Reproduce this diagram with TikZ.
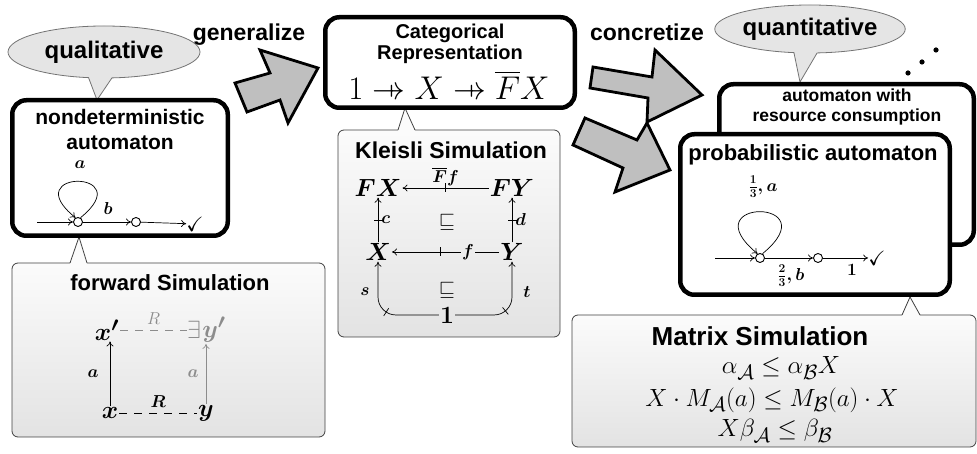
\documentclass[tikz,border=0pt]{standalone}
\usepackage{fontspec}
\usepackage{amssymb}
\newfontfamily\hv{Liberation Sans}
\usetikzlibrary{shapes.callouts,arrows.meta,decorations.markings}
\newcommand{\kto}{\mathrel{\mkern9mu\mapstochar\mkern-9mu\rightarrow}}
\begin{document}
\begin{tikzpicture}[x=1pt,y=1pt,
  bigbox/.style={draw=black, line width=4.5pt, rounded corners=14pt, fill=white, inner sep=0pt},
  simbox/.style={draw=black!75, line width=0.8pt, rounded corners=6pt, top color=gray!3, bottom color=gray!22, inner sep=0pt},
  simline/.style={draw=black!75, line width=0.8pt},
  bubble/.style={ellipse callout, draw=black!55, fill=gray!20, line width=0.8pt, inner sep=0pt, callout pointer arc=14},
  blockarrow/.style={draw=black, line width=2.8pt, fill=gray!50, line join=miter},
  sf/.style={inner sep=0pt, align=center, font=\hv\bfseries\fontsize{#1}{#1}\selectfont},
  mth/.style={inner sep=1pt, font=\fontsize{#1}{#1}\selectfont},
  bmth/.style={inner sep=1pt, font=\fontsize{#1}{#1}\selectfont\boldmath},
  st/.style={circle, draw, line width=0.9pt, minimum size=9pt, inner sep=0pt, fill=white},
  ar/.style={-{To[length=5pt,width=7pt]}, line width=0.7pt},
  kl/.style={ar, postaction={decorate}, decoration={markings, mark=at position #1 with {\draw[line width=0.7pt,-] (0,-4.5pt) -- (0,4.5pt);}}},
  kl/.default=0.5,
  fade/.style={black!45},
  dsh/.style={line width=0.7pt, dash pattern=on 8pt off 7pt}
]
\useasboundingbox (0,0) rectangle (977,454);

% speech bubbles
\node[bubble, minimum width=192pt, minimum height=52pt, callout absolute pointer={(97,354)}] (qual) at (104,402) {\hv\bfseries\fontsize{24}{26}\selectfont qualitative};
\node[bubble, minimum width=184pt, minimum height=48pt, callout absolute pointer={(800,372)}] (quant) at (810,425) {\hv\bfseries\fontsize{24}{26}\selectfont quantitative};

% simulation boxes
\node[simbox, minimum width=313pt, minimum height=174pt] (fwdbox) at (168.5,104) {};
\fill[gray!3] (70,190.2) -- (79,217) -- (87,190.2) -- cycle;
\draw[simline] (70,191) -- (79,217) -- (87,191);

\node[simbox, minimum width=222pt, minimum height=207pt] (klbox) at (449,220.5) {};
\fill[gray!3] (398,323.2) -- (405,346) -- (415,323.2) -- cycle;
\draw[simline] (398,324) -- (405,346) -- (415,324);

\node[simbox, minimum width=404pt, minimum height=132pt] (mxbox) at (774,73) {};
\fill[gray!3] (902,138.2) -- (910,157) -- (920,138.2) -- cycle;
\draw[simline] (902,139) -- (910,157) -- (920,139);

% block arrows
\draw[blockarrow] (670,284) -- (647,331) -- (637,314) -- (585,336) -- (573,309) -- (623,286) -- (615,262) -- cycle;
\draw[blockarrow] (702,359) -- (655,404) -- (652,377) -- (593,387) -- (590,366) -- (648,356) -- (647,332) -- cycle;
\draw[blockarrow] (318,386) -- (260,404) -- (270,381) -- (235,371) -- (247,342) -- (280,354) -- (288,331) -- cycle;
\node[sf=23] (gen) at (249,419) {generalize};
\node[sf=23] (conc) at (647,422) {concretize};

% big boxes
\node[bigbox, minimum width=215.5pt, minimum height=135.5pt] (nd) at (120,286) {};
\node[bigbox, minimum width=249.5pt, minimum height=90.5pt] (cat) at (450,391.5) {};
\node[bigbox, minimum width=254.5pt, minimum height=160.5pt] (back) at (846.5,289.5) {};
\node[bigbox, minimum width=269.5pt, minimum height=160.5pt] (prob) at (815,239.5) {};

% dots
\fill (908,381) circle (2.6);
\fill (922,392) circle (2.6);
\fill (936,404) circle (2.6);

% nondeterministic automaton
\node[sf=21, font=\hv\bfseries\fontsize{21}{25}\selectfont] (ndt) at (120,324) {nondeterministic\\automaton};
\node[st] (n1) at (78,232) {};
\node[st] (n2) at (136,232) {};
\node[inner sep=0pt, font=\fontsize{20.74}{21}\selectfont] (nc) at (195,230) {$\checkmark$};
\coordinate (n0) at (37,232);
\draw[ar] (n0) -- (n1);
\draw[ar] (n1) -- (n2);
\draw[ar] (n2) -- (nc);
\draw[ar] (n1.60) .. controls +(60,48.5) and +(-60,48.5) .. (n1.120);
\node[bmth=17.28] (na) at (80,289) {$a$};
\node[bmth=17.28] (nb) at (108,245) {$b$};

% forward simulation
\node[sf=22] (fwdt) at (170,171) {forward Simulation};
\node[bmth=24.88] (xp) at (107,124) {$x'$};
\node[bmth=24.88, fade] (yp) at (214,124) {$y'$};
\node[mth=24.88, fade, anchor=east, inner sep=0pt] (ex) at (yp.west) {$\exists$};
\node[bmth=24.88] (xx) at (110,41) {$x$};
\node[bmth=24.88] (yy) at (206,41) {$y$};
\draw[ar] (xx.north) -- (xx.north |- xp.south) node[midway, left=10pt, bmth=17.28, black] {$a$};
\draw[ar, fade] (yy.north) -- (yy.north |- yp.south) node[midway, left=6pt, bmth=17.28] {$a$};
\draw[dsh, fade] (xp.east) -- node[above=5pt, mth=17.28, inner sep=0pt] {$R$} (ex.west);
\draw[dsh] (xx.east) -- node[above=5pt, bmth=17.28, inner sep=0pt] {$R$} (yy.west);

% categorical representation
\node[sf=20, font=\hv\bfseries\fontsize{20}{21}\selectfont] (catt) at (450,410) {Categorical\\Representation};
\node[mth=24.88, scale=1.32] (catf) at (449,369) {$1\kto X\kto \overline{F}X$};

% Kleisli simulation
\node[sf=23] (klt) at (451,304) {Kleisli Simulation};
\node[bmth=24.88] (FX) at (378,266) {$FX$};
\node[bmth=24.88] (FY) at (512,266) {$FY$};
\node[bmth=24.88] (X) at (378,202) {$X$};
\node[bmth=24.88] (Y) at (512,202) {$Y$};
\node[bmth=24.88] (one) at (447,139) {$1$};
\node[mth=20.74] (sq1) at (447,232) {$\sqsubseteq$};
\node[mth=20.74] (sq2) at (447,164) {$\sqsubseteq$};
\node[bmth=17.28] (flab) at (468,202) {$f$};
\draw[kl] (FY) -- node[above=2pt, bmth=17.28, inner sep=0pt] {$\overline{F}f$} (FX);
\draw[kl] (X) -- node[right=3pt, bmth=17.28, inner sep=0pt] {$c$} (FX);
\draw[kl] (Y) -- node[right=3pt, bmth=17.28, inner sep=0pt] {$d$} (FY);
\draw[kl=0.3] (flab) -- (X);
\draw[line width=0.7pt] (Y) -- (flab);
\draw[kl, rounded corners=18pt] (one.west) -| (X.south);
\draw[kl, rounded corners=18pt] (one.east) -| (Y.south);
\node[bmth=17.28] (slab) at (365,162) {$s$};
\node[bmth=17.28] (tlab) at (527,162) {$t$};

% resource consumption
\node[sf=17.5, font=\hv\bfseries\fontsize{17.5}{20}\selectfont] (backt) at (847,347) {automaton with\\resource consumption};

% probabilistic automaton
\node[sf=22] (probt) at (813,299) {probabilistic automaton};
\node[st] (p1) at (760,196) {};
\node[st] (p2) at (818,196) {};
\node[inner sep=0pt, font=\fontsize{20.74}{21}\selectfont] (pc) at (877,196) {$\checkmark$};
\coordinate (p0) at (715,196);
\draw[ar] (p0) -- (p1);
\draw[ar] (p1) -- (p2);
\draw[ar] (p2) -- (pc);
\draw[ar] (p1.60) .. controls +(68,56) and +(-68,56) .. (p1.120);
\node[bmth=17.28] (pa) at (763,267) {$\frac{1}{3},a$};
\node[bmth=17.28] (pb) at (791,178) {$\frac{2}{3},b$};
\node[bmth=17.28] (pone) at (852,184) {$1$};

% matrix simulation
\node[sf=26] (mxt) at (760,118) {Matrix Simulation};
\node[mth=24.88] (m1) at (781,86) {$\alpha_{\mathcal{A}} \le \alpha_{\mathcal{B}}X$};
\node[mth=24.88] (m2) at (772,54) {$X\cdot M_{\mathcal{A}}(a) \le M_{\mathcal{B}}(a)\cdot X$};
\node[mth=24.88] (m3) at (775,23) {$X\beta_{\mathcal{A}} \le \beta_{\mathcal{B}}$};
\end{tikzpicture}
\end{document}
